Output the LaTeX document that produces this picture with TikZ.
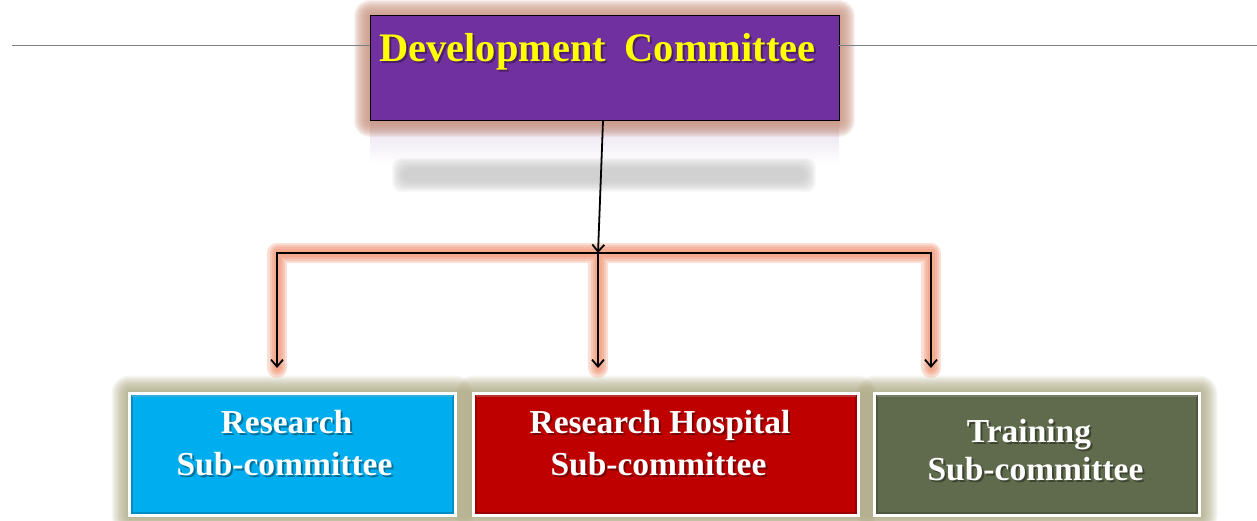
\documentclass[tikz,border=0pt]{standalone}
\usepackage{fontspec}
\setmainfont{Liberation Serif}
\usetikzlibrary{arrows.meta,calc}
\pgfdeclarelayer{bg}
\pgfsetlayers{bg,main}
\definecolor{devpurple}{HTML}{7030A0}
\definecolor{devyellow}{HTML}{FFFF00}
\definecolor{resblue}{HTML}{00ADEE}
\definecolor{hosred}{HTML}{BE0000}
\definecolor{trngreen}{HTML}{5F6B4C}
\definecolor{topglow}{HTML}{C99684}
\definecolor{lineglow}{HTML}{EE8A66}
\definecolor{boxglow}{HTML}{A29E74}
\definecolor{rulegray}{HTML}{7F7F7F}
\definecolor{reflect}{HTML}{E6DDED}

% text with a soft drop shadow: #1 name, #2 style, #3 position, #4 text
\newcommand\lbltext[4]{%
  \node[#2, text=black, opacity=0.35] (#1-sh) at ([shift={(2,2)}]#3) {#4};
  \node[#2] (#1) at (#3) {#4};}

\begin{document}
\begin{tikzpicture}[x=1pt, y=-1pt,
  devbox/.style={draw=black, line width=1pt, fill=devpurple,
    minimum width=469pt, minimum height=105pt, inner sep=0pt, outer sep=0pt},
  subbox/.style={draw=white, line width=3pt, minimum height=122pt,
    inner sep=0pt, outer sep=0pt},
  toplbl/.style={font=\fontsize{40.5}{48}\selectfont\bfseries, text=devyellow,
    anchor=base west, inner sep=0pt},
  sublbl/.style={font=\fontsize{33.5}{40}\selectfont\bfseries, text=white,
    anchor=base, inner sep=0pt},
  conn/.style={draw=black, line width=1.8pt},
  tipped/.style={-{Straight Barb[length=7pt,width=12pt]}},
  rule/.style={draw=rulegray, line width=0.9pt},
  lglow/.style={draw=lineglow, line width=#1, opacity=0.28, line cap=round, line join=round}
]
\useasboundingbox (0,0) rectangle (1257,521);

% connector junctions and free arrow ends
\coordinate (hub) at (598,253);
\coordinate (hl) at (277,253);
\coordinate (hr) at (931,253);
\coordinate (a1) at (277,368);
\coordinate (a2) at (598,368);
\coordinate (a3) at (931,368);
\coordinate (ruleL) at (12,45);
\coordinate (ruleR) at (1257,45);

% boxes
\node[devbox] (dev) at (604.5,68.5) {};
\node[subbox, fill=resblue, minimum width=326pt] (rs) at (292.5,454.5) {};
\node[subbox, fill=hosred, minimum width=385pt] (rh) at (666,454.5) {};
\node[subbox, fill=trngreen, minimum width=325pt] (tr) at (1037,454.5) {};

% inner bevel lines of the lower boxes
\foreach \b/\c in {rs/resblue, rh/hosred, tr/trngreen}{
  \draw[\c!70!black, line width=1.2pt, opacity=0.6]
    ([shift={(2.5,2.5)}]\b.north west) rectangle ([shift={(-2.5,-2.5)}]\b.south east);
  \draw[\c!60!white, line width=1.2pt, opacity=0.5]
    ([shift={(2.5,2.5)}]\b.north west) -- ([shift={(-2.5,2.5)}]\b.north east);
}

\begin{pgfonlayer}{bg}
  % reflection and soft shadow beneath the top box
  \shade[top color=reflect, bottom color=white] (dev.south west) rectangle ([yshift=-42pt]dev.south east);
  \foreach \i in {1,...,12}
    \fill[black!25, opacity=0.1, rounded corners=9pt]
      (404-\i,170-\i) rectangle (804+\i,180+\i);
  % glow around the top box
  \foreach \i in {1,...,16}
    \fill[topglow, opacity=0.12, rounded corners=\i pt]
      ([shift={(-\i,-\i)}]dev.north west) rectangle ([shift={(\i,\i)}]dev.south east);
  % glow around the lower boxes
  \foreach \b in {rs,rh,tr}
    \foreach \i in {1,...,18}
      \fill[boxglow, opacity=0.075, rounded corners=\i pt]
        ([shift={(-\i,-\i)}]\b.north west) rectangle ([shift={(\i,\i)}]\b.south east);
  % glow along the branch connectors
  \foreach \w in {20,15,11,7}
    \draw[lglow=\w pt] (a1) -- (hl) -- (hr) -- (a3) (hub) -- (a2);
\end{pgfonlayer}

% thin rule through the top box
\draw[rule] (ruleL) -- (dev.west |- ruleL);
\draw[rule] (dev.east |- ruleR) -- (ruleR);

% connectors
\draw[conn, tipped] ([xshift=-1.5pt]dev.south) -- (hub);
\draw[conn, line cap=rect] (hl) -- (hr);
\draw[conn, tipped] (hl) -- (a1);
\draw[conn, tipped] (hub) -- (a2);
\draw[conn, tipped] (hr) -- (a3);

% labels
\lbltext{devlbl}{toplbl}{379,62}{Development\hspace{0.45em}Committee}
\lbltext{rs1}{sublbl}{286.5,433}{Research}
\lbltext{rs2}{sublbl}{284.5,475}{Sub-committee}
\lbltext{rh1}{sublbl}{660,433}{Research Hospital}
\lbltext{rh2}{sublbl}{658.5,475}{Sub-committee}
\lbltext{tr1}{sublbl}{1029,442}{Training}
\lbltext{tr2}{sublbl}{1035.5,480}{Sub-committee}
\end{tikzpicture}
\end{document}
